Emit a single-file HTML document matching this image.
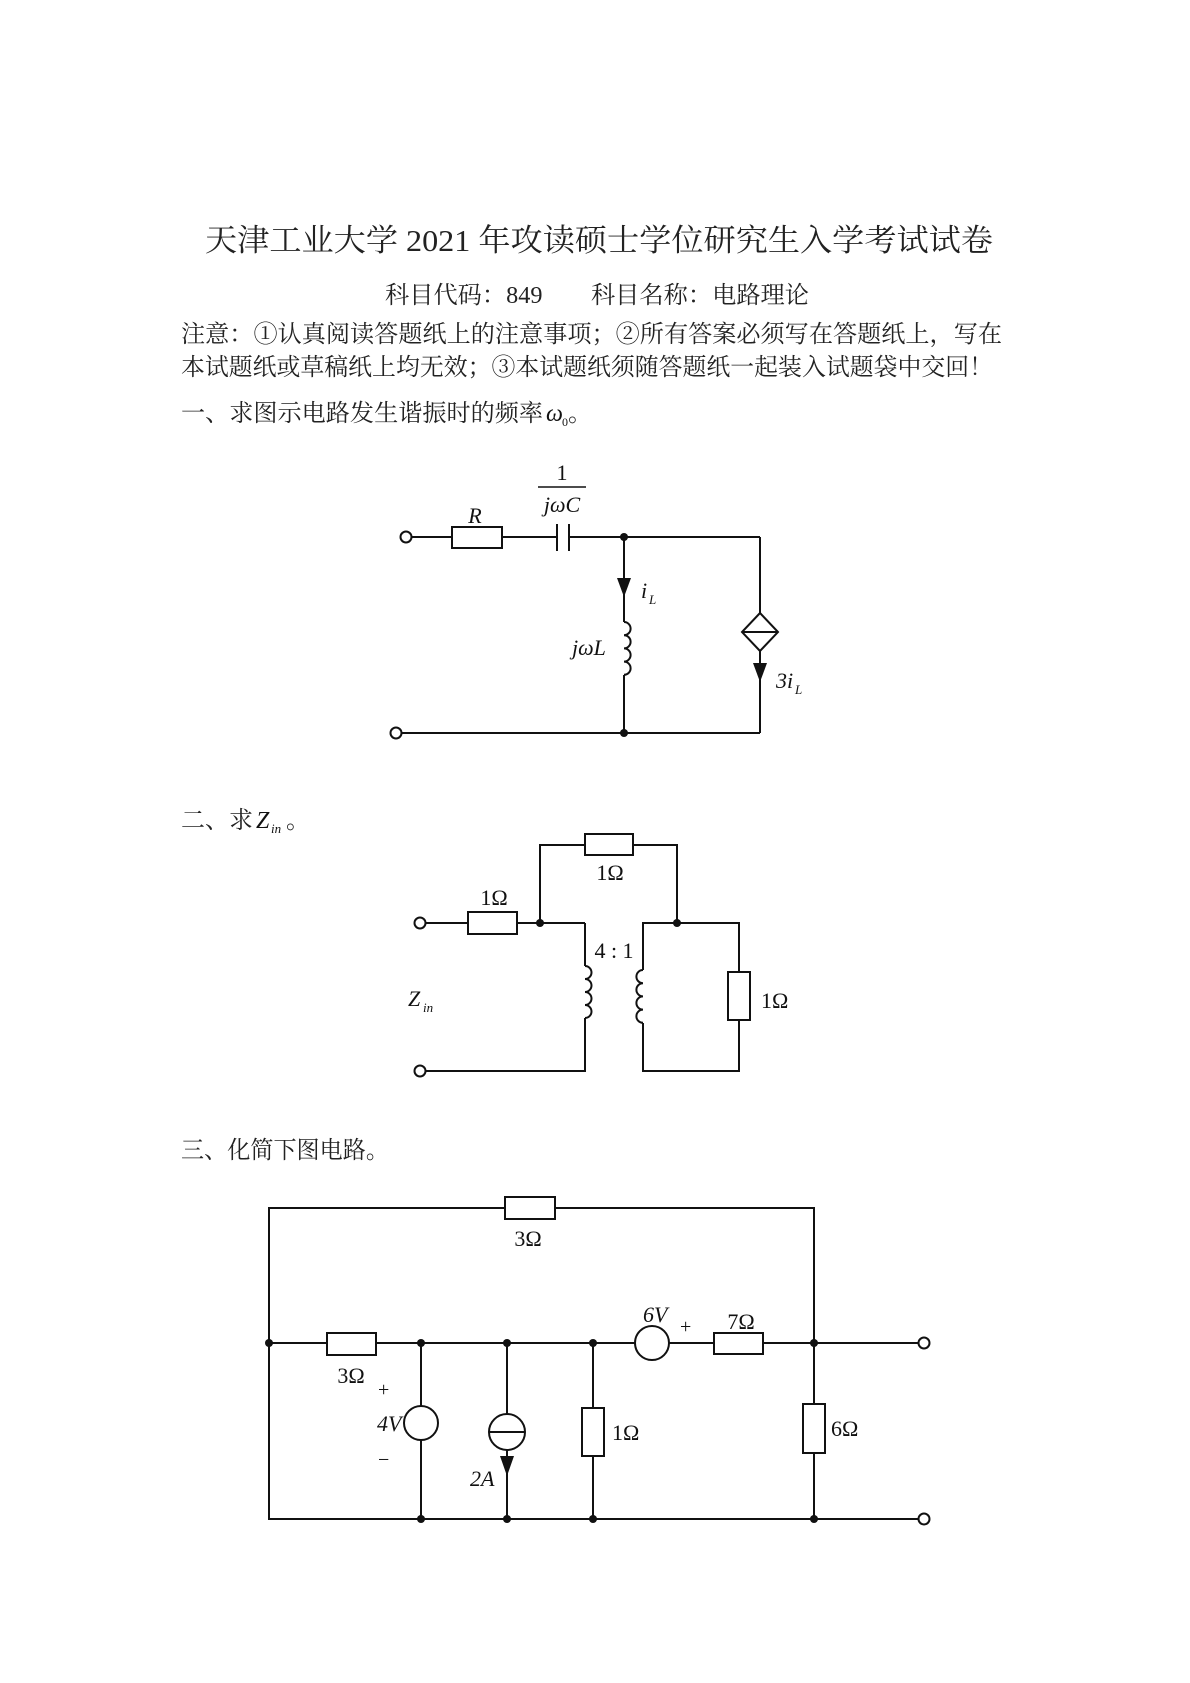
<!DOCTYPE html>
<html><head><meta charset="utf-8"><style>
html,body{margin:0;padding:0;background:#fff;}
svg{display:block;}
.cn{font-family:"Liberation Serif","Noto Serif CJK SC",serif;fill:#222;}
.t{font-family:"Liberation Serif",serif;fill:#111;}
.i{font-family:"Liberation Serif",serif;font-style:italic;fill:#111;}
</style></head><body>
<svg width="1190" height="1683" viewBox="0 0 1190 1683" xmlns="http://www.w3.org/2000/svg">
<g class="cn">
<text x="205" y="251" font-size="31" textLength="788" lengthAdjust="spacingAndGlyphs">天津工业大学 2021 年攻读硕士学位研究生入学考试试卷</text>
<text x="385" y="303" font-size="24" textLength="424" lengthAdjust="spacingAndGlyphs">科目代码：849　　科目名称：电路理论</text>
<text x="181" y="342" font-size="24" textLength="821" lengthAdjust="spacingAndGlyphs">注意：①认真阅读答题纸上的注意事项；②所有答案必须写在答题纸上，写在</text>
<text x="181" y="375" font-size="24" textLength="812" lengthAdjust="spacingAndGlyphs">本试题纸或草稿纸上均无效；③本试题纸须随答题纸一起装入试题袋中交回！</text>
<text x="181" y="421" font-size="24" textLength="362" lengthAdjust="spacingAndGlyphs">一、求图示电路发生谐振时的频率</text>
<text x="568" y="421" font-size="24">。</text>
<text x="181" y="828" font-size="24">二、求</text>
<text x="286" y="828" font-size="24">。</text>
<text x="181" y="1158" font-size="24" textLength="208" lengthAdjust="spacingAndGlyphs">三、化简下图电路。</text>
</g>
<text class="i" x="546" y="421" font-size="24">ω</text><text class="t" x="562" y="426" font-size="12">0</text>
<text class="i" x="256" y="828" font-size="24">Z</text><text class="i" x="271" y="833" font-size="13">in</text>

<g stroke="#111" stroke-width="2" fill="none">
<!-- circuit 1 -->
<circle cx="406" cy="537" r="5.5" fill="#fff"/>
<line x1="412" y1="537" x2="452" y2="537"/>
<rect x="452" y="527" width="50" height="21" fill="#fff"/>
<line x1="502" y1="537" x2="557" y2="537"/>
<line x1="557" y1="524" x2="557" y2="551"/>
<line x1="569" y1="524" x2="569" y2="551"/>
<line x1="569" y1="537" x2="760" y2="537"/>
<line x1="624" y1="537" x2="624" y2="622"/>
<path d="M624 622 a6.6 6.6 0 0 1 0 13.2 a6.6 6.6 0 0 1 0 13.2 a6.6 6.6 0 0 1 0 13.2 a6.6 6.6 0 0 1 0 13.2"/>
<line x1="624" y1="675" x2="624" y2="733"/>
<line x1="760" y1="537" x2="760" y2="613"/>
<polygon points="760,613 778,632 760,651 742,632" fill="#fff"/>
<line x1="742" y1="632" x2="778" y2="632"/>
<line x1="760" y1="651" x2="760" y2="733"/>
<line x1="402" y1="733" x2="760" y2="733"/>
<circle cx="396" cy="733" r="5.5" fill="#fff"/>
<line x1="538" y1="487" x2="586" y2="487" stroke-width="1.5"/>

<!-- circuit 2 -->
<circle cx="420" cy="923" r="5.5" fill="#fff"/>
<line x1="426" y1="923" x2="468" y2="923"/>
<rect x="468" y="912" width="49" height="22" fill="#fff"/>
<line x1="517" y1="923" x2="585" y2="923"/>
<polyline points="540,923 540,845 585,845"/>
<rect x="585" y="834" width="48" height="21" fill="#fff"/>
<polyline points="633,845 677,845 677,923"/>
<line x1="585" y1="923" x2="585" y2="966"/>
<path d="M585 966 a6.5 6.5 0 0 1 0 13 a6.5 6.5 0 0 1 0 13 a6.5 6.5 0 0 1 0 13 a6.5 6.5 0 0 1 0 13"/>
<polyline points="585,1018 585,1071 426,1071"/>
<circle cx="420" cy="1071" r="5.5" fill="#fff"/>
<polyline points="643,970 643,923 739,923 739,972"/>
<path d="M643 970 a6.6 6.6 0 0 0 0 13.2 a6.6 6.6 0 0 0 0 13.2 a6.6 6.6 0 0 0 0 13.2 a6.6 6.6 0 0 0 0 13.2"/>
<polyline points="643,1023 643,1071 739,1071 739,1020"/>
<rect x="728" y="972" width="22" height="48" fill="#fff"/>

<!-- circuit 3 -->
<rect x="269" y="1208" width="545" height="311"/>
<line x1="269" y1="1343" x2="918" y2="1343"/>
<line x1="814" y1="1519" x2="918" y2="1519"/>
<circle cx="924" cy="1343" r="5.5" fill="#fff"/>
<circle cx="924" cy="1519" r="5.5" fill="#fff"/>
<rect x="505" y="1197" width="50" height="22" fill="#fff"/>
<rect x="327" y="1333" width="49" height="22" fill="#fff"/>
<circle cx="652" cy="1343" r="17" fill="#fff"/>
<rect x="714" y="1333" width="49" height="21" fill="#fff"/>
<line x1="421" y1="1343" x2="421" y2="1519"/>
<circle cx="421" cy="1423" r="17" fill="#fff"/>
<line x1="507" y1="1343" x2="507" y2="1519"/>
<circle cx="507" cy="1432" r="18" fill="#fff"/>
<line x1="489" y1="1432" x2="525" y2="1432"/>
<line x1="593" y1="1343" x2="593" y2="1519"/>
<rect x="582" y="1408" width="22" height="48" fill="#fff"/>
<rect x="803" y="1404" width="22" height="49" fill="#fff"/>
</g>
<g fill="#111">
<circle cx="624" cy="537" r="4"/><circle cx="624" cy="733" r="4"/>
<polygon points="617,578 631,578 624,597"/>
<polygon points="753,663 767,663 760,682"/>
<circle cx="540" cy="923" r="4"/><circle cx="677" cy="923" r="4"/>
<circle cx="269" cy="1343" r="4"/><circle cx="421" cy="1343" r="4"/><circle cx="507" cy="1343" r="4"/><circle cx="593" cy="1343" r="4"/><circle cx="814" cy="1343" r="4"/>
<circle cx="421" cy="1519" r="4"/><circle cx="507" cy="1519" r="4"/><circle cx="593" cy="1519" r="4"/><circle cx="814" cy="1519" r="4"/>
<polygon points="500,1456 514,1456 507,1476"/>
</g>
<!-- labels -->
<g class="t" font-size="22">
<text x="562" y="480" text-anchor="middle">1</text>
<text x="494" y="905" text-anchor="middle">1Ω</text>
<text x="610" y="880" text-anchor="middle">1Ω</text>
<text x="614" y="958" text-anchor="middle">4 : 1</text>
<text x="761" y="1008">1Ω</text>
<text x="528" y="1246" text-anchor="middle">3Ω</text>
<text x="351" y="1383" text-anchor="middle">3Ω</text>
<text x="741" y="1329" text-anchor="middle">7Ω</text>
<text x="612" y="1440">1Ω</text>
<text x="831" y="1436">6Ω</text>
<text x="378" y="1396" font-size="20">+</text>
<text x="378" y="1466" font-size="20">−</text>
<text x="680" y="1333" font-size="20">+</text>
</g>
<g class="i" font-size="22">
<text x="562" y="512" text-anchor="middle">jωC</text>
<text x="475" y="523" text-anchor="middle">R</text>
<text x="641" y="598">i</text><text x="649" y="604" font-size="13">L</text>
<text x="572" y="655">jωL</text>
<text x="776" y="688">3i</text><text x="795" y="694" font-size="13">L</text>
<text x="408" y="1006">Z</text><text x="423" y="1012" font-size="13">in</text>
<text x="643" y="1322">6V</text>
<text x="377" y="1431">4V</text>
<text x="470" y="1486">2A</text>
</g>
</svg>
</body></html>
